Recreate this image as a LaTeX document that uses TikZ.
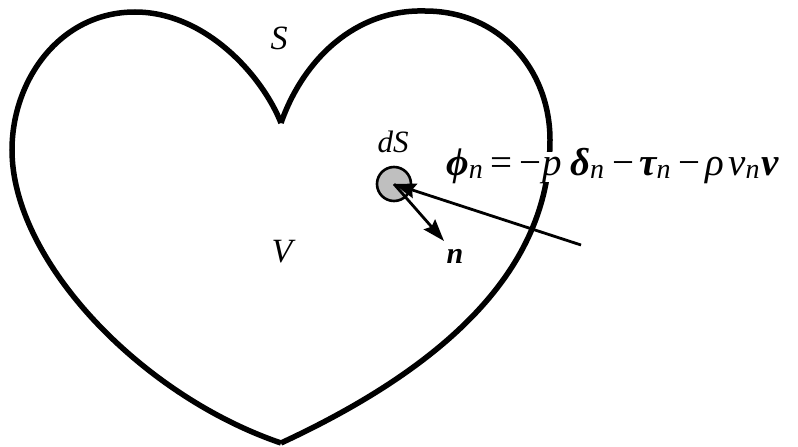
\documentclass[tikz,border=0pt]{standalone}
\usepackage{fontspec}
\setmainfont{Liberation Serif}
\usetikzlibrary{arrows.meta}
\newcommand\subn{\raisebox{-3pt}{\fontsize{28}{28}\selectfont\itshape n}}
\newcommand\bisym[1]{{\bfseries\itshape #1}}
\newcommand\itsym[1]{{\itshape #1}}
\tikzset{
  outline/.style={line width=5.5pt, line join=miter},
  vecarrow/.style={line width=2.8pt, -{Stealth[length=22pt,width=15pt,inset=3pt]}},
  lbl/.style={inner sep=0pt}
}
\begin{document}
\begin{tikzpicture}[x=1pt,y=-1pt]
\useasboundingbox (0,0) rectangle (798,447);
% heart surface S
\coordinate (cusp) at (281,123);
\coordinate (tip) at (281,443);
\draw[outline] (cusp) .. controls (262,75) and (205,12) .. (135,12)
  .. controls (60,12) and (12,80) .. (12,150)
  .. controls (12,260) and (140,395) .. (tip);
\draw[outline] (cusp) .. controls (303,60) and (355,9) .. (425,11)
  .. controls (500,11) and (550,70) .. (550,140)
  .. controls (550,260) and (460,360) .. (tip);
% labels
\node[lbl, font=\fontsize{34}{34}\selectfont\itshape] (S) at (279,38) {S};
\node[lbl, font=\fontsize{34}{34}\selectfont\itshape] (V) at (282,252) {V};
\node[lbl, font=\fontsize{31}{31}\selectfont\itshape] (dS) at (393,142) {dS};
% element dS
\node[circle, draw, line width=2.6pt, fill=black!25, minimum size=34pt, inner sep=0pt] (el) at (394,184) {};
\coordinate (c) at (394,184);
\coordinate (ntip) at (444,241);
\coordinate (far) at (581,245);
% flux equation
\node[fill=white, inner sep=0pt, text height=23pt, text depth=7pt, anchor=base west, font=\fontsize{39}{39}\selectfont] (eq) at (446,175)
  {\bisym{ϕ}\subn\hspace{8pt}=\hspace{7pt}−\hspace{1pt}\itsym{p}\hspace{8pt}\bisym{δ}\subn\hspace{8pt}−\hspace{5pt}\bisym{τ}\subn\hspace{8pt}−\hspace{5pt}\itsym{ρ}\hspace{4pt}\itsym{v}\subn\hspace{2pt}\bisym{v}};
% vectors
\draw[vecarrow] (c) -- (ntip);
\node[lbl, font=\fontsize{30}{30}\selectfont\bfseries\itshape] (n) at (455,256) {n};
\draw[vecarrow] (far) -- (c);
\end{tikzpicture}
\end{document}
